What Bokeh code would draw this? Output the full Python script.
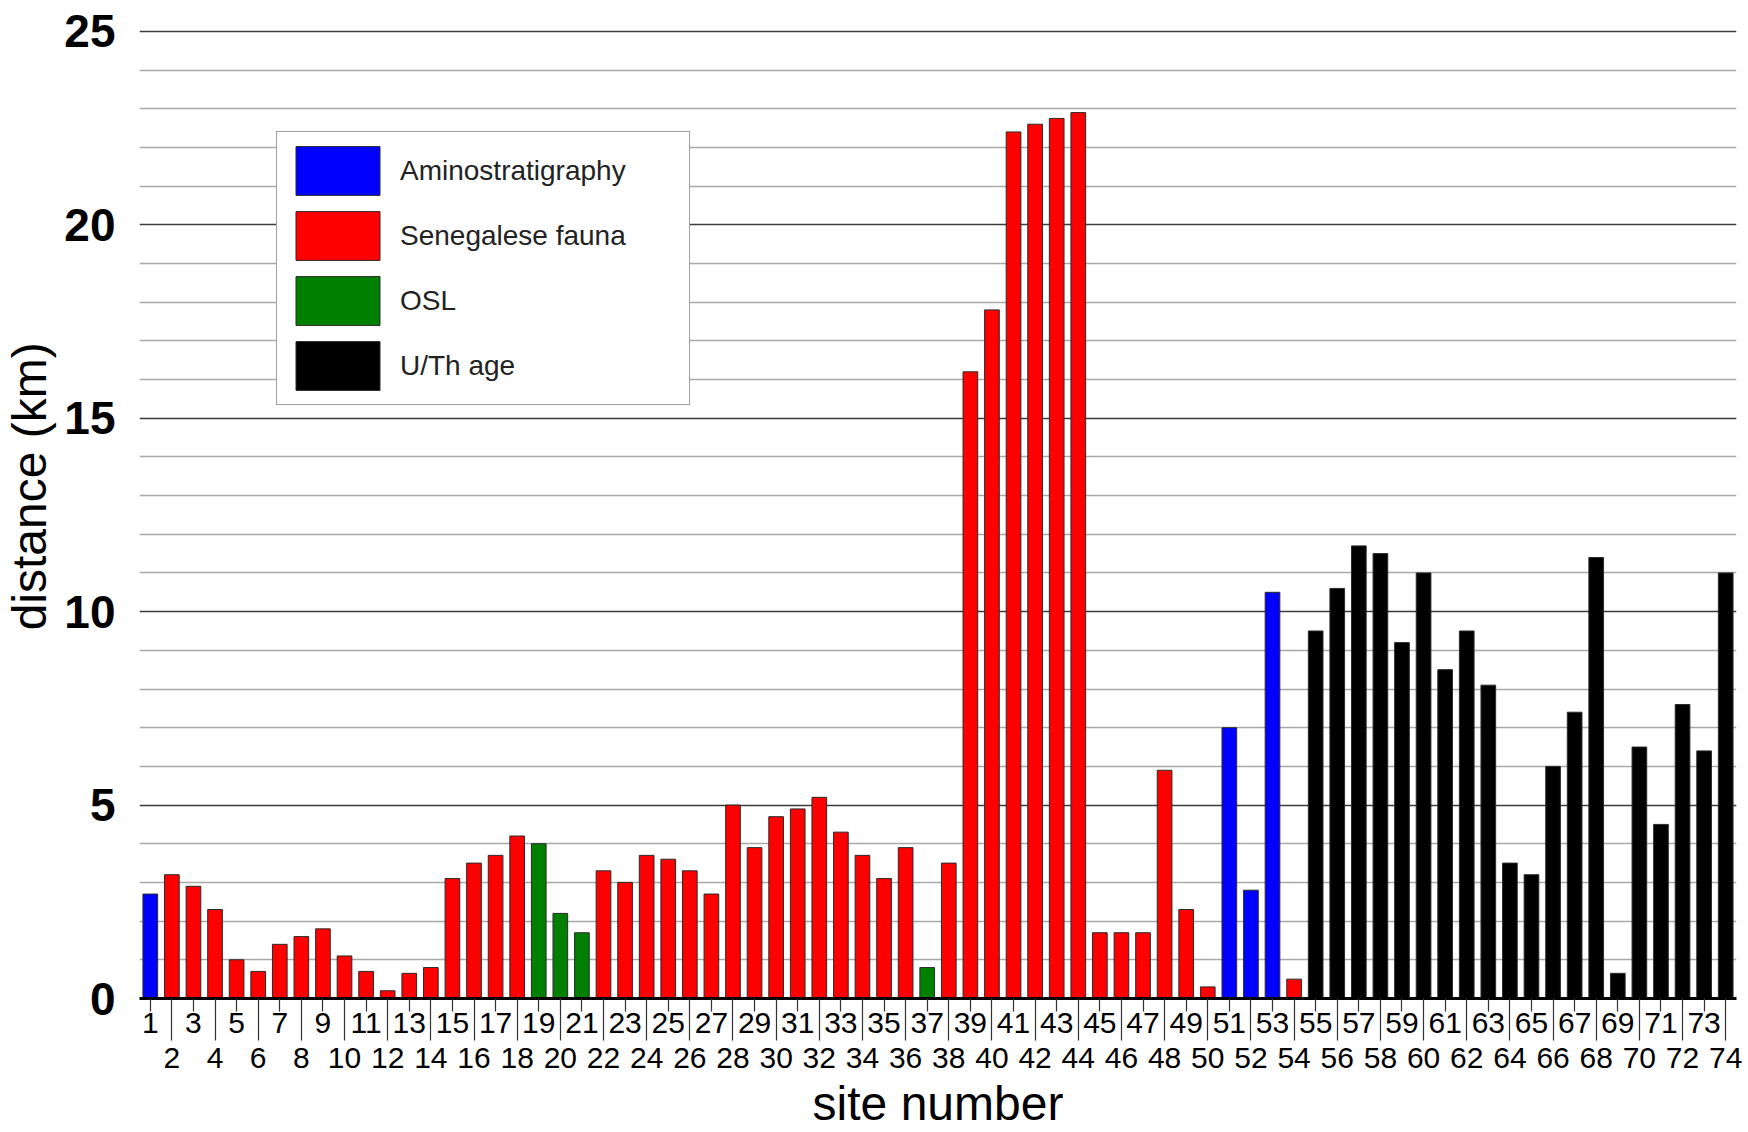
from bokeh.plotting import figure
from bokeh.models import (ColumnDataSource, FixedTicker, LinearAxis, Range1d,
                          Grid, Legend, LegendItem)
from bokeh.embed import file_html
from bokeh.resources import INLINE

# Distance (km) for each site, with the dating method used at that site
sites = list(range(1, 75))
distance_km = [2.7, 3.2, 2.9, 2.3, 1.0, 0.7, 1.4, 1.6, 1.8, 1.1,
               0.7, 0.2, 0.65, 0.8, 3.1, 3.5, 3.7, 4.2, 4.0, 2.2,
               1.7, 3.3, 3.0, 3.7, 3.6, 3.3, 2.7, 5.0, 3.9, 4.7,
               4.9, 5.2, 4.3, 3.7, 3.1, 3.9, 0.8, 3.5, 16.2, 17.8,
               22.4, 22.6, 22.75, 22.9, 1.7, 1.7, 1.7, 5.9, 2.3, 0.3,
               7.0, 2.8, 10.5, 0.5, 9.5, 10.6, 11.7, 11.5, 9.2, 11.0,
               8.5, 9.5, 8.1, 3.5, 3.2, 6.0, 7.4, 11.4, 0.65, 6.5,
               4.5, 7.6, 6.4, 11.0]
aminostratigraphy_sites = [1, 51, 52, 53]
osl_sites = [19, 20, 21, 37]
uth_sites = list(range(55, 75))

methods = ["Aminostratigraphy", "Senegalese fauna", "OSL", "U/Th age"]
method_colors = ["#0000ff", "#ff0000", "#008000", "#000000"]


def method_of(site):
    if site in aminostratigraphy_sites:
        return "Aminostratigraphy"
    if site in osl_sites:
        return "OSL"
    if site in uth_sites:
        return "U/Th age"
    return "Senegalese fauna"


site_method = [method_of(s) for s in sites]

y_major = [0, 5, 10, 15, 20, 25]
y_minor = [v for v in range(0, 26) if v % 5 != 0]
odd_sites = [s for s in sites if s % 2 == 1]
even_sites = [s for s in sites if s % 2 == 0]

FONT = "Liberation Sans"

p = figure(width=1748, height=1132,
           x_range=Range1d(0.5, 74.5), y_range=Range1d(0, 25.1),
           x_axis_location=None, y_axis_location=None,
           output_backend="svg", toolbar_location=None,
           min_border_left=139, min_border_right=12,
           min_border_top=27, min_border_bottom=133)
p.outline_line_color = None
p.background_fill_color = "white"
p.center = []  # drop the default grids; only horizontal lines are drawn

# y axis: bold ticks every 5 km, grid every 1 km
y_ticker = FixedTicker(ticks=y_major, minor_ticks=y_minor)
yax = LinearAxis(ticker=y_ticker, axis_label="\u00a0\u00a0\u00a0\u00a0distance (km)",
                 axis_line_color=None, major_tick_line_color=None,
                 minor_tick_line_color=None,
                 major_label_text_font=FONT, major_label_text_font_size="46px",
                 major_label_text_font_style="bold",
                 major_label_text_color="black", major_label_standoff=18,
                 axis_label_text_font=FONT, axis_label_text_font_size="48px",
                 axis_label_text_font_style="normal",
                 axis_label_text_color="black", axis_label_standoff=5)
p.add_layout(yax, "left")

grid = Grid(dimension=1, ticker=y_ticker,
            grid_line_color="#3c3c3c", grid_line_width=1.5,
            minor_grid_line_color="#a9a9a9", minor_grid_line_width=1.5)
p.add_layout(grid)

# x axes: odd site numbers on the first row (short ticks),
# even ones on the second row (long ticks reaching up to the baseline)
xa = LinearAxis(ticker=FixedTicker(ticks=odd_sites),
                axis_line_color="black", axis_line_width=3,
                major_tick_in=0, major_tick_out=13,
                major_tick_line_color="#333333", major_tick_line_width=1.2,
                minor_tick_line_color=None,
                major_label_text_font=FONT, major_label_text_font_size="30px",
                major_label_text_color="black", major_label_standoff=1)
xb = LinearAxis(ticker=FixedTicker(ticks=even_sites),
                axis_line_color=None, minor_tick_line_color=None,
                major_tick_in=37, major_tick_out=5,
                major_tick_line_color="#333333", major_tick_line_width=1.2,
                major_label_text_font=FONT, major_label_text_font_size="30px",
                major_label_text_color="black", major_label_standoff=7,
                axis_label="site number",
                axis_label_text_font=FONT, axis_label_text_font_size="48px",
                axis_label_text_font_style="normal",
                axis_label_text_color="black", axis_label_standoff=6)
p.add_layout(xa, "below")
p.add_layout(xb, "below")

items = []
for name, color in zip(methods, method_colors):
    idx = [i for i, m in enumerate(site_method) if m == name]
    src = ColumnDataSource(dict(x=[sites[i] for i in idx],
                                top=[distance_km[i] for i in idx]))
    r = p.vbar(x="x", top="top", bottom=0, width=0.68, source=src,
               fill_color=color, line_color="#2a2a2a", line_width=1)
    items.append(LegendItem(label=name, renderers=[r]))

legend = Legend(items=items, location=(137, 593),
                glyph_width=105, glyph_height=61, spacing=4, padding=8,
                label_standoff=10, label_width=281,
                label_text_font=FONT, label_text_font_size="28px",
                label_text_color="#222222",
                border_line_color="#444444", border_line_width=1.5,
                background_fill_color="white", background_fill_alpha=1.0)
p.add_layout(legend, "center")

open("out.html", "w").write(file_html(p, INLINE))
